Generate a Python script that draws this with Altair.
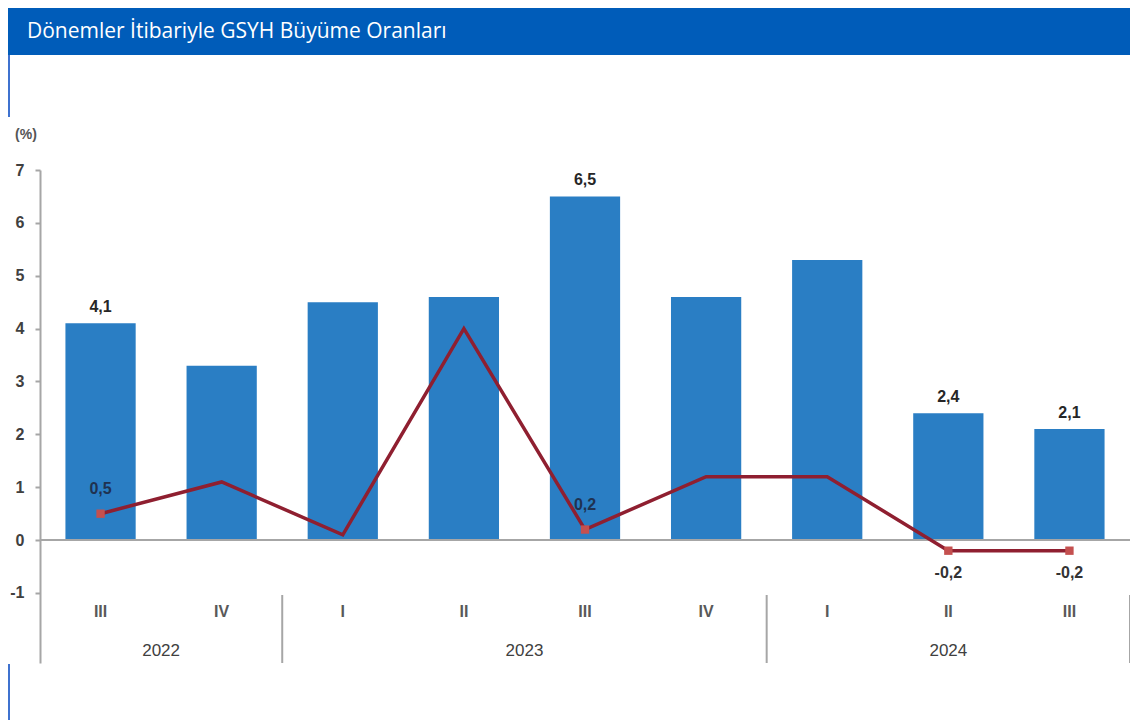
import altair as alt
import pandas as pd

# ---------------- data ----------------
quarters = ["III", "IV", "I", "II", "III", "IV", "I", "II", "III"]
years = ["2022", "2022", "2023", "2023", "2023", "2023", "2024", "2024", "2024"]
annual_growth = [4.1, 3.3, 4.5, 4.6, 6.5, 4.6, 5.3, 2.4, 2.1]
quarterly_growth = [0.5, 1.1, 0.1, 4.0, 0.2, 1.2, 1.2, -0.2, -0.2]
annual_labeled = [True, False, False, False, True, False, False, True, True]
quarterly_labeled = [True, False, False, False, True, False, False, True, True]
y_ticks = [-1, 0, 1, 2, 3, 4, 5, 6, 7]
title_text = "Dönemler İtibariyle GSYH Büyüme Oranları"
unit_text = "(%)"

# ---------------- tables ----------------
keys = [f"{y}-{q}" for y, q in zip(years, quarters)]


def fmt(v):
    return f"{v:.1f}".replace(".", ",")


df = pd.DataFrame({
    "key": keys,
    "quarter": quarters,
    "year": years,
    "annual": annual_growth,
    "quarterly": quarterly_growth,
    "alab": [fmt(v) if s else "" for v, s in zip(annual_growth, annual_labeled)],
    "qlab": [fmt(v) if s else "" for v, s in zip(quarterly_growth, quarterly_labeled)],
    "qshow": quarterly_labeled,
})

# year groups -> center position & boundaries on a [0, n] linear scale
groups = []
for i, y in enumerate(years):
    if not groups or groups[-1]["year"] != y:
        groups.append({"year": y, "first": i, "last": i})
    else:
        groups[-1]["last"] = i
year_df = pd.DataFrame({
    "year": [g["year"] for g in groups],
    "pos": [(g["first"] + g["last"] + 1) / 2 for g in groups],
})
bound_df = pd.DataFrame({"b": [g["last"] + 1 for g in groups]})
n = len(keys)

# ---------------- layout ----------------
W, H = 1090, 493
PAD = {"left": 32, "top": 162, "right": 0, "bottom": 57}

FONT = "Liberation Sans"
BAR_COLOR = "#2a7ec4"
LINE_COLOR = "#8f1f30"
GRAY = "#a6a6a6"

yscale = alt.Scale(domain=[-2.324, 7], nice=False, zero=False)
xband = alt.Scale(domain=keys, paddingInner=0.42, paddingOuter=0.21)
xlin = alt.Scale(domain=[0, n], nice=False, zero=False)

base = alt.Chart(df)

bars = base.mark_bar(color=BAR_COLOR).encode(
    x=alt.X("key:N", scale=xband, axis=None, sort=keys),
    y=alt.Y(
        "annual:Q",
        scale=yscale,
        axis=alt.Axis(
            values=y_ticks,
            title=None,
            grid=False,
            tickSize=5,
            tickWidth=2,
            tickColor=GRAY,
            domainColor=GRAY,
            domainWidth=2,
            labelFont=FONT,
            labelFontSize=16,
            labelFontWeight="bold",
            labelColor="#404040",
            labelPadding=11,
            labelExpr="'' + datum.value",
        ),
    ),
)

zero_line = alt.Chart(pd.DataFrame({"z": [0]})).mark_rule(
    color=GRAY, strokeWidth=2
).encode(
    y=alt.Y("z:Q", scale=yscale),
    x=alt.value(0),
    x2=alt.value(W),
)

bar_labels = base.transform_filter("datum.alab != ''").mark_text(
    baseline="middle", dy=-16, font=FONT, fontSize=16, fontWeight="bold", color="#262626"
).encode(
    x=alt.X("key:N", scale=xband, axis=None, sort=keys),
    y=alt.Y("annual:Q", scale=yscale),
    text="alab:N",
)

line = base.mark_line(color=LINE_COLOR, strokeWidth=3.5).encode(
    x=alt.X("key:N", scale=xband, axis=None, sort=keys),
    y=alt.Y("quarterly:Q", scale=yscale),
)

markers = base.transform_filter("datum.qshow").mark_square(
    size=70, color="#c4504f", opacity=1
).encode(
    x=alt.X("key:N", scale=xband, axis=None, sort=keys),
    y=alt.Y("quarterly:Q", scale=yscale),
)

q_labels_pos = base.transform_filter("datum.qlab != '' && datum.quarterly >= 0").mark_text(
    baseline="middle", dy=-25, font=FONT, fontSize=16, fontWeight="bold", color="#1f3251"
).encode(
    x=alt.X("key:N", scale=xband, axis=None, sort=keys),
    y=alt.Y("quarterly:Q", scale=yscale),
    text="qlab:N",
)

q_labels_neg = base.transform_filter("datum.qlab != '' && datum.quarterly < 0").mark_text(
    baseline="middle", dy=22, font=FONT, fontSize=16, fontWeight="bold", color="#333333"
).encode(
    x=alt.X("key:N", scale=xband, axis=None, sort=keys),
    y=alt.Y("quarterly:Q", scale=yscale),
    text="qlab:N",
)

quarter_labels = base.mark_text(
    baseline="middle", font=FONT, fontSize=16, fontWeight="bold", color="#595959"
).encode(
    x=alt.X("key:N", scale=xband, axis=None, sort=keys),
    y=alt.value(442),
    text="quarter:N",
)

year_labels = alt.Chart(year_df).mark_text(
    baseline="middle", font=FONT, fontSize=17, color="#404040"
).encode(
    x=alt.X("pos:Q", scale=xlin, axis=None),
    y=alt.value(481),
    text="year:N",
)

separators = alt.Chart(bound_df).mark_rule(color=GRAY, strokeWidth=2).encode(
    x=alt.X("b:Q", scale=xlin, axis=None),
    y=alt.value(425),
    y2=alt.value(H),
)

one = pd.DataFrame({"t": [title_text], "u": [unit_text]})

title_bar = alt.Chart(one).mark_rect(color="#005cb9").encode(
    x=alt.value(-PAD["left"]),
    x2=alt.value(W),
    y=alt.value(-PAD["top"]),
    y2=alt.value(-115),
)

title = alt.Chart(one).mark_text(
    align="left", baseline="middle", font="Open Sans", fontSize=21, color="white"
).encode(
    x=alt.value(-13),
    y=alt.value(-138),
    text="t:N",
)

unit = alt.Chart(one).mark_text(
    align="center", baseline="middle", font=FONT, fontSize=14, fontWeight="bold", color="#555555"
).encode(
    x=alt.value(-14),
    y=alt.value(-35),
    text="u:N",
)

border_top = alt.Chart(one).mark_rule(color="#3f72cf", strokeWidth=2).encode(
    x=alt.value(-31), y=alt.value(-115), y2=alt.value(-53)
)
border_bottom = alt.Chart(one).mark_rule(color="#3f72cf", strokeWidth=2).encode(
    x=alt.value(-31), y=alt.value(H + 1), y2=alt.value(H + PAD["bottom"])
)

chart = alt.layer(
    bars,
    zero_line,
    bar_labels,
    line,
    markers,
    q_labels_pos,
    q_labels_neg,
    quarter_labels,
    year_labels,
    separators,
    title_bar,
    title,
    unit,
    border_top,
    border_bottom,
).resolve_scale(
    x="independent"
).properties(
    width=W,
    height=H,
    padding=PAD,
    autosize=alt.AutoSizeParams(type="none"),
    background="white",
).configure_view(
    strokeWidth=0
)

chart.save("out.html", embed_options={"renderer": "svg", "actions": False})
